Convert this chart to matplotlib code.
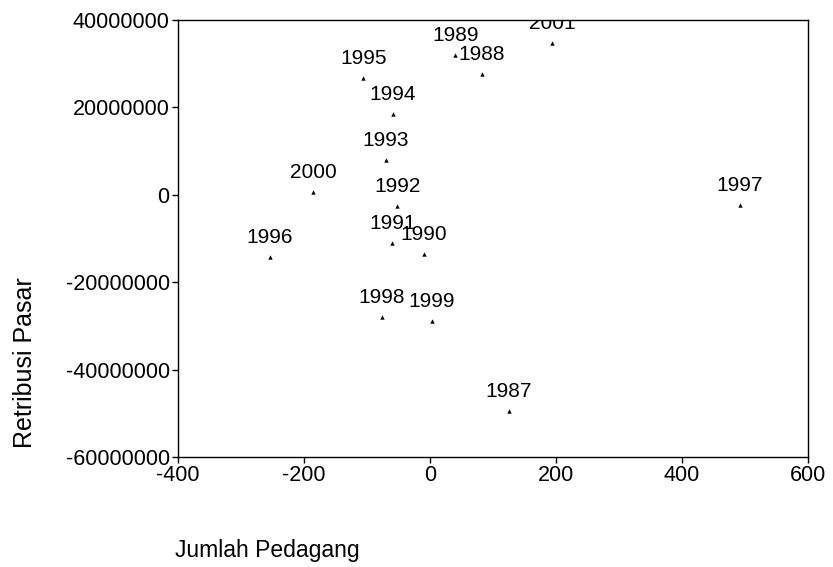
import matplotlib
matplotlib.use("Agg")
import matplotlib.pyplot as plt

plt.rcParams['font.family'] = ['Liberation Sans', 'DejaVu Sans']

years = ['1987', '1988', '1989', '1990', '1991', '1992', '1993', '1994',
         '1995', '1996', '1997', '1998', '1999', '2000', '2001']
jumlah_pedagang = [125, 82, 40, -10, -60, -52, -70, -59,
                   -106, -254, 492, -76, 3, -185, 194]
retribusi_pasar = [-49500000, 27700000, 32000000, -13500000, -11000000, -2500000,
                   8000000, 18500000, 26800000, -14200000, -2300000, -27900000,
                   -28800000, 700000, 34800000]

x_ticks = [-400, -200, 0, 200, 400, 600]
y_ticks = [-60000000, -40000000, -20000000, 0, 20000000, 40000000]

fig = plt.figure(figsize=(8.33, 5.67), dpi=100)
ax = fig.add_axes([178/833, 1 - 457/567, (808 - 178)/833, (457 - 20)/567])

ax.scatter(jumlah_pedagang, retribusi_pasar, marker='^', s=10, color='black',
           linewidths=0, zorder=3)
for yr, xv, yv in zip(years, jumlah_pedagang, retribusi_pasar):
    ax.annotate(yr, (xv, yv), xytext=(0, 7), textcoords='offset points',
                ha='center', va='bottom', fontsize=15, color='black',
                annotation_clip=False, clip_on=True)

ax.set_xlim(-400, 600)
ax.set_ylim(-60000000, 40000000)
ax.set_xticks(x_ticks)
ax.set_yticks(y_ticks)
ax.set_xticklabels([str(v) for v in x_ticks])
ax.set_yticklabels([str(v) for v in y_ticks])
ax.tick_params(axis='both', direction='out', length=4, width=1, labelsize=15.5,
               colors='black', pad=2)
for s in ax.spines.values():
    s.set_linewidth(1.0)
    s.set_color('black')

fig.text(25/833, 1 - 363/567, 'Retribusi Pasar', rotation=90, ha='center',
         va='center', fontsize=18)
fig.text(175/833, 1 - 550/567, 'Jumlah Pedagang', ha='left', va='center',
         fontsize=16.5)

fig.savefig('out.png', dpi=100)
